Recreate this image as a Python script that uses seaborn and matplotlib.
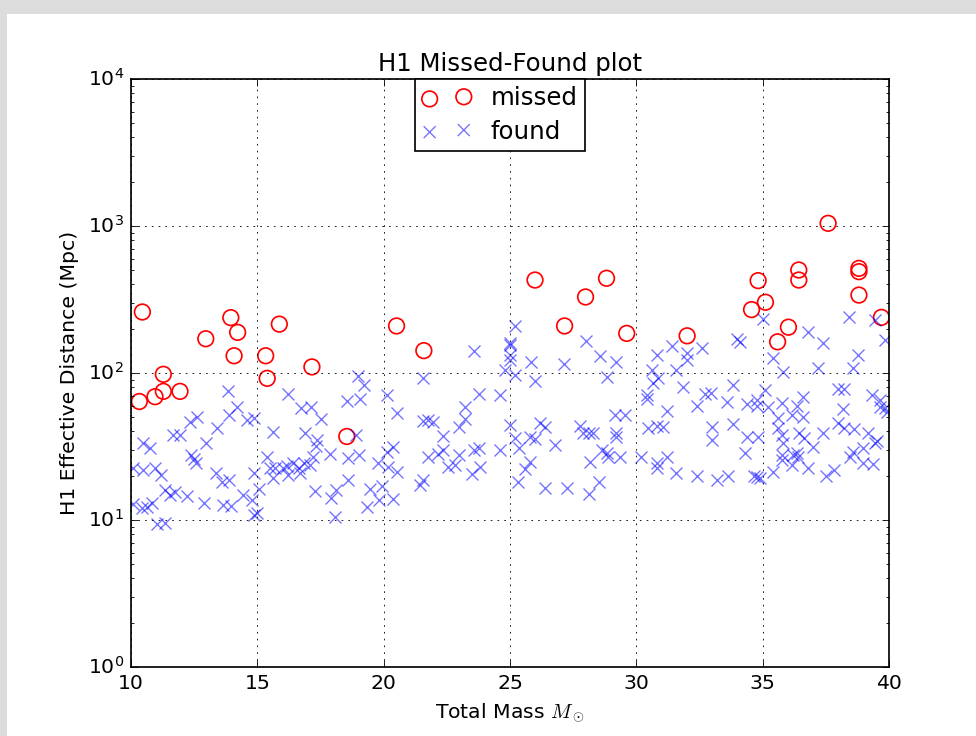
import matplotlib
matplotlib.use("Agg")
import matplotlib.pyplot as plt
from matplotlib.patches import Rectangle
import pandas as pd
import seaborn as sns

# Injections that were missed: total mass (solar masses) and H1 effective distance (Mpc)
missed_mass = [10.45, 10.33, 10.95, 11.28, 11.28, 11.94, 12.96, 13.95, 14.22, 14.08,
               15.33, 15.39, 15.87, 17.16, 18.54, 20.51, 21.59, 25.99, 27.16, 27.99,
               28.82, 29.62, 32.01, 34.56, 34.82, 35.11, 35.59, 36.02, 36.43, 36.43,
               37.59, 38.81, 38.81, 38.81, 39.70]
missed_dist = [260, 64, 69, 75, 98, 75, 171, 238, 189, 131,
               131, 92, 215, 110, 37, 209, 142, 429, 209, 329,
               441, 186, 179, 270, 425, 303, 163, 205, 502, 429,
               1043, 515, 489, 339, 239]

# Injections that were found
found_mass = [
    13.85, 14.18, 13.89, 12.60, 12.34, 13.39, 14.58, 14.88, 15.63, 16.23,
    16.73, 17.11, 17.51, 16.89, 17.35, 17.32, 17.22, 16.85, 16.69, 17.08,
    17.28, 17.88, 17.90, 18.11, 18.07, 18.56, 19.06, 18.99, 19.23, 18.90,
    19.04, 18.60, 18.60, 19.33, 19.46, 19.83, 19.92, 19.79, 20.14, 20.51,
    20.38, 20.14, 20.18, 20.51, 20.38, 10.46, 10.75, 11.65, 11.94, 12.97,
    12.37, 12.49, 12.57, 10.09, 10.46, 10.95, 11.17, 10.09, 10.42, 10.62,
    10.82, 11.02, 11.35, 11.35, 11.54, 11.74, 12.20, 12.89, 13.36, 13.59,
    13.89, 13.65, 13.94, 14.42, 14.78, 14.87, 14.97, 15.08, 14.87, 15.37,
    15.50, 15.63, 15.70, 16.03, 16.16, 16.23, 16.42, 16.66,
    25.20, 25.00, 25.00, 25.00, 25.00, 24.80, 25.20, 23.57, 25.82, 25.99,
    27.15, 28.01, 28.56, 29.20, 28.83, 21.57, 23.79, 24.60, 23.22, 23.22,
    22.99, 21.57, 21.77, 21.97, 22.36, 25.00, 25.20, 25.37, 25.79, 25.99,
    26.19, 26.38, 26.78, 25.79, 25.59, 25.33, 26.38, 27.27, 28.14, 28.54,
    27.77, 27.88, 28.14, 28.30, 29.16, 29.55, 29.20, 29.20, 28.63, 28.83,
    28.89, 28.17, 29.35, 22.36, 22.16, 21.77, 22.56, 22.82, 22.99, 23.57,
    23.79, 24.60, 23.48, 23.81, 21.44, 21.57, 30.17, 30.80, 30.80, 31.20,
    31.57, 30.47, 30.80, 31.04, 31.20, 30.41, 30.41, 30.67, 30.87, 30.61,
    30.80, 31.40, 31.57,
    35.03, 38.42, 39.45, 39.84, 38.79, 38.59, 37.20, 37.40, 36.81, 35.82,
    35.42, 33.99, 34.10, 32.59, 31.99, 31.99, 31.86, 32.41, 32.72, 32.94,
    33.81, 33.60, 34.39, 34.79, 35.09, 34.79, 35.22, 35.75, 36.15, 36.35,
    36.61, 36.61, 35.59, 35.59, 35.75, 35.82, 36.45, 36.64, 37.40, 37.00,
    36.21, 36.41, 36.35, 35.75, 35.75, 36.81, 36.15, 37.49, 37.82, 37.99,
    38.22, 38.19, 37.99, 38.22, 38.61, 39.18, 39.51, 39.45, 38.59, 38.46,
    38.98, 38.98, 39.38, 39.31, 39.64, 39.64, 39.84, 39.91, 32.98, 32.98,
    33.84, 34.37, 34.83, 34.30, 32.41, 33.18, 33.61, 34.66, 34.79, 34.89,
    35.42,
]
found_dist = [
    75.9, 59.0, 51.8, 50.5, 46.7, 42.1, 47.9, 49.2, 39.9, 71.6,
    57.5, 58.4, 48.4, 39.3, 35.0, 31.9, 27.0, 24.5, 20.8, 23.7,
    15.8, 28.1, 14.2, 16.0, 10.5, 64.4, 66.2, 95.4, 82.8, 37.9,
    27.7, 26.3, 18.7, 12.2, 16.2, 13.7, 17.0, 24.3, 70.8, 53.7,
    31.5, 29.2, 23.1, 21.3, 13.8, 33.2, 30.7, 37.9, 37.9, 33.6,
    27.7, 26.0, 24.3, 22.5, 21.9, 22.5, 20.2, 12.9, 12.0, 12.3,
    13.0, 9.4, 9.6, 16.0, 14.8, 15.6, 14.6, 13.1, 21.0, 18.0,
    18.7, 12.6, 12.5, 14.8, 13.7, 10.8, 11.1, 16.2, 21.0, 27.0,
    22.5, 19.2, 22.5, 22.5, 23.3, 20.2, 24.3, 22.5,
    209, 161, 155, 133, 122, 105, 96.9, 142, 119, 88.3,
    115, 165, 131, 119, 94.4, 92.9, 72.0, 70.8, 58.4, 48.4,
    43.2, 47.4, 47.9, 46.7, 37.3, 44.3, 35.9, 30.8, 36.5, 35.4,
    45.9, 43.2, 32.4, 24.9, 22.1, 18.0, 16.4, 16.4, 15.0, 18.0,
    43.6, 38.9, 38.9, 38.9, 51.8, 51.8, 38.9, 36.5, 29.9, 28.7,
    27.0, 24.9, 27.0, 29.9, 28.1, 27.0, 23.1, 23.7, 27.7, 29.9,
    30.7, 29.9, 20.6, 22.8, 17.3, 18.7, 27.0, 24.3, 22.5, 27.0,
    21.0, 42.5, 43.6, 43.2, 55.4, 66.2, 70.8, 85.1, 92.0, 105,
    133, 153, 105,
    233, 239, 230, 168, 133, 108, 108, 159, 189, 102,
    126, 170, 163, 147, 136, 122, 80.0, 59.7, 72.0, 73.5,
    82.8, 63.1, 61.5, 65.5, 76.6, 59.7, 59.0, 62.8, 51.8, 59.7,
    69.0, 49.9, 49.2, 42.1, 37.9, 33.2, 39.3, 36.0, 39.3, 31.5,
    27.7, 27.0, 28.7, 27.7, 25.4, 22.5, 23.7, 20.0, 21.9, 77.4,
    77.4, 56.6, 45.5, 42.1, 41.4, 38.9, 34.7, 33.6, 29.2, 27.0,
    30.7, 24.3, 24.0, 70.8, 65.5, 59.0, 57.5, 54.6, 43.2, 35.0,
    45.0, 36.5, 36.5, 28.5, 20.0, 18.7, 20.0, 20.0, 19.7, 19.2,
    21.3,
]

x_ticks = [10, 15, 20, 25, 30, 35, 40]

missed = pd.DataFrame({"mass": missed_mass, "dist": missed_dist})
found = pd.DataFrame({"mass": found_mass, "dist": found_dist})

plt.style.use("classic")

fig = plt.figure(figsize=(8, 736 / 122), dpi=122)
fig.patch.set_facecolor("#dcdcdc")
fig.add_artist(Rectangle((7 / 976, 0), 1, (736 - 14) / 736,
                         transform=fig.transFigure, facecolor="white",
                         edgecolor="none", zorder=-10))

ax = fig.add_axes([131 / 976, 1 - 667 / 736, 758 / 976, 588 / 736])

sns.scatterplot(data=missed, x="mass", y="dist", ax=ax, marker="o",
                s=85, color="red", facecolor="none", edgecolor="red",
                linewidth=1.0, label="missed", legend=False)
sns.scatterplot(data=found, x="mass", y="dist", ax=ax, marker="x",
                s=50, color="blue", alpha=0.55, linewidth=0.8,
                label="found", legend=False)

ax.set_yscale("log")
ax.set_xlim(10, 40)
ax.set_ylim(1, 1e4)
ax.set_xticks(x_ticks)
ax.set_xticklabels([str(t) for t in x_ticks])
ax.grid(True, which="major", linestyle=":", color="black", linewidth=0.5)

ax.set_title("H1 Missed-Found plot", fontsize=14.4)
ax.set_xlabel(r"Total Mass $M_\odot$", fontsize=12)
ax.set_ylabel("H1 Effective Distance (Mpc)", fontsize=12)

leg = ax.legend(loc="upper left", bbox_to_anchor=(284 / 758, 1.0),
                borderaxespad=0, scatterpoints=2, fontsize=14.4,
                borderpad=0.3, labelspacing=0.38,
                fancybox=False, shadow=False, frameon=True)
leg.get_frame().set_edgecolor("black")

fig.savefig("out.png", dpi=122, facecolor=fig.get_facecolor())
